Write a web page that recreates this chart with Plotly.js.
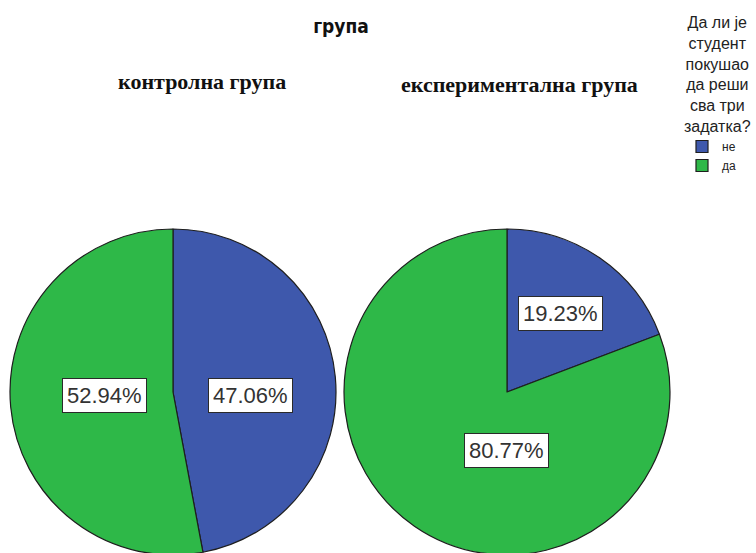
<!DOCTYPE html>
<html><head><meta charset="utf-8">
<script src="https://cdn.plot.ly/plotly-3.0.1.min.js"></script>
<style>html,body{margin:0;padding:0;overflow:hidden;background:#fff}</style>
</head><body><div id="chart"></div>
<script>
// ---- data ----
const chartTitle = 'група';
const groups = ['контролна група', 'експериментална група'];
const answers = ['не', 'да'];
const controlPct = [47.06, 52.94];
const experimentalPct = [19.23, 80.77];
const legendTitleLines = ['Да ли је', 'студент', 'покушао', 'да реши', 'сва три', 'задатка?'];
const answerColors = ['#3e58ac', '#2eb848'];

// ---- layout geometry (px) ----
const W = 756, H = 560;
const R = 163;
const pies = [
  {cx: 173, cy: 392, values: controlPct, title: groups[0], tx: 202, ty: 81,
   labelOff: [[77, 3], [-69, 3]]},
  {cx: 507, cy: 392, values: experimentalPct, title: groups[1], tx: 519, ty: 84,
   labelOff: [[53, -79], [-1, 58]]}
];
const px = x => x / W, py = y => 1 - y / H;

const traces = pies.map((p, i) => ({
  type: 'pie',
  name: p.title,
  labels: answers,
  values: p.values,
  sort: false,
  direction: 'clockwise',
  rotation: 0,
  textinfo: 'none',
  hoverinfo: 'label+percent',
  marker: {colors: answerColors, line: {color: '#1e1e1e', width: 1.2}},
  domain: {x: [px(p.cx - R), px(p.cx + R)], y: [py(p.cy + R), py(p.cy - R)]}
}));

const annotations = [];
pies.forEach(p => {
  annotations.push({
    xref: 'paper', yref: 'paper', x: px(p.tx), y: py(p.ty),
    xanchor: 'center', yanchor: 'middle',
    text: '<b>' + p.title + '</b>', showarrow: false,
    font: {family: 'Liberation Serif, serif', size: 22, color: '#111'}
  });
  p.values.forEach((v, j) => {
    annotations.push({
      xref: 'paper', yref: 'paper',
      x: px(p.cx + p.labelOff[j][0]), y: py(p.cy + p.labelOff[j][1]),
      xanchor: 'center', yanchor: 'middle',
      text: v.toFixed(2) + '%', showarrow: false,
      bgcolor: '#ffffff', bordercolor: '#2a2a2a', borderwidth: 1, borderpad: 4,
      font: {family: 'Liberation Sans, Arial, sans-serif', size: 22, color: '#333'}
    });
  });
});
annotations.push({
  xref: 'paper', yref: 'paper', x: px(717), y: py(12), xanchor: 'center', yanchor: 'top',
  text: legendTitleLines.join('<br>'), showarrow: false, align: 'center',
  font: {family: 'Liberation Sans, Arial, sans-serif', size: 16, color: '#222'}
});

const layout = {
  width: W, height: H,
  margin: {l: 0, r: 0, t: 0, b: 0},
  paper_bgcolor: '#fff',
  title: {text: '<b>' + chartTitle + '</b>', x: px(341), xanchor: 'center', y: py(26), yanchor: 'middle',
          font: {family: 'DejaVu Sans Condensed, DejaVu Sans, sans-serif', size: 19, color: '#111'}},
  showlegend: true,
  legend: {x: px(682), y: py(132), xanchor: 'left', yanchor: 'top', itemwidth: 30,
           font: {family: 'Liberation Sans, Arial, sans-serif', size: 12, color: '#222'},
           bgcolor: 'rgba(0,0,0,0)', tracegroupgap: 0},
  annotations: annotations
};

Plotly.newPlot('chart', traces, layout, {displayModeBar: false, staticPlot: true});
</script>
</body></html>
